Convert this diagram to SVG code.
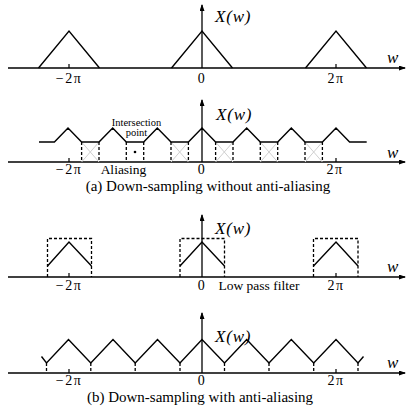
<svg xmlns="http://www.w3.org/2000/svg" width="415" height="415" viewBox="0 0 415 415">
<defs>
<marker id="arr" markerWidth="7" markerHeight="5" refX="6" refY="2.5" orient="auto" markerUnits="userSpaceOnUse">
<path d="M0,0 L7,2.5 L0,5 Z" fill="#000"/>
</marker>
<style>
.ax{stroke:#000;stroke-width:1.3;fill:none}
.sig{stroke:#000;stroke-width:1.4;fill:none;stroke-linejoin:miter}
.dash{stroke:#000;stroke-width:1.3;fill:none;stroke-dasharray:3,2}
.tick{stroke:#000;stroke-width:1.2}
.cross{stroke:#d0d0d0;stroke-width:1}
.lab{font-family:"Liberation Serif",serif;font-size:14px;letter-spacing:1.5px;fill:#000;text-anchor:middle}
.cap{font-family:"Liberation Serif",serif;font-size:15px;fill:#000;text-anchor:middle}
.sm{font-family:"Liberation Serif",serif;font-size:13.5px;fill:#000;text-anchor:middle}
.tiny{font-family:"Liberation Serif",serif;font-size:10.5px;fill:#000;text-anchor:middle}
.it{font-family:"Liberation Serif",serif;font-size:17px;font-style:italic;letter-spacing:0.8px;fill:#000}
</style>
</defs>
<rect width="415" height="415" fill="#fff"/>

<g id="connectors">
<line class="ax" x1="8" y1="68" x2="405" y2="68" marker-end="url(#arr)"/>
<line class="ax" x1="202" y1="68" x2="202" y2="5" marker-end="url(#arr)"/>
<line class="ax" x1="8" y1="162" x2="405" y2="162" marker-end="url(#arr)"/>
<line class="ax" x1="202" y1="162" x2="202" y2="100" marker-end="url(#arr)"/>
<line class="ax" x1="8" y1="277" x2="405" y2="277" marker-end="url(#arr)"/>
<line class="ax" x1="202" y1="277" x2="202" y2="215" marker-end="url(#arr)"/>
<line class="ax" x1="8" y1="373" x2="405" y2="373" marker-end="url(#arr)"/>
<line class="ax" x1="202" y1="373" x2="202" y2="313" marker-end="url(#arr)"/>
</g>

<g id="panel1">
<polyline class="sig" points="38.5,68 69,31 99.5,68"/>
<polyline class="sig" points="171.5,68 202,31 232.5,68"/>
<polyline class="sig" points="305.5,68 336,31 366.5,68"/>
<line class="tick" x1="69" y1="64" x2="69" y2="68"/>
<line class="tick" x1="336" y1="64" x2="336" y2="68"/>
<text class="it" x="215" y="22">X(w)</text>
<text class="it" x="387" y="63">w</text>
<text class="lab" x="69" y="83">−2π</text>
<text class="lab" x="202" y="83">0</text>
<text class="lab" x="336" y="83">2π</text>
</g>

<g id="panel2">
<g id="aliasing-boxes">
<g class="cross">
<line x1="81.6" y1="142" x2="99" y2="162"/><line x1="99" y1="142" x2="81.6" y2="162"/>
<line x1="171" y1="142" x2="188.4" y2="162"/><line x1="188.4" y1="142" x2="171" y2="162"/>
<line x1="215.6" y1="142" x2="233" y2="162"/><line x1="233" y1="142" x2="215.6" y2="162"/>
<line x1="260.3" y1="142" x2="277.7" y2="162"/><line x1="277.7" y1="142" x2="260.3" y2="162"/>
<line x1="305" y1="142" x2="322.4" y2="162"/><line x1="322.4" y1="142" x2="305" y2="162"/>
</g>
<g class="dash">
<line x1="81.6" y1="142" x2="81.6" y2="162"/><line x1="99" y1="142" x2="99" y2="162"/>
<line x1="126.3" y1="142" x2="126.3" y2="162"/><line x1="143.7" y1="142" x2="143.7" y2="162"/>
<line x1="171" y1="142" x2="171" y2="162"/><line x1="188.4" y1="142" x2="188.4" y2="162"/>
<line x1="215.6" y1="142" x2="215.6" y2="162"/><line x1="233" y1="142" x2="233" y2="162"/>
<line x1="260.3" y1="142" x2="260.3" y2="162"/><line x1="277.7" y1="142" x2="277.7" y2="162"/>
<line x1="305" y1="142" x2="305" y2="162"/><line x1="322.4" y1="142" x2="322.4" y2="162"/>
</g>
<circle cx="135" cy="152" r="1.3" fill="#000"/>
</g>
<polyline class="sig" points="39,142 54.4,142 68,128 81.6,142 99,142 112.7,128 126.3,142 143.7,142 157.3,128 171,142 188.4,142 202,128 215.6,142 233,142 246.7,128 260.3,142 277.7,142 291.3,128 305,142 322.4,142 336,128 349.6,142 366.7,142"/>
<line class="tick" x1="69" y1="158" x2="69" y2="162"/>
<line class="tick" x1="336" y1="158" x2="336" y2="162"/>
<text class="it" x="216" y="120">X(w)</text>
<text class="it" x="387" y="158">w</text>
<text class="tiny" x="136.5" y="126">Intersection</text>
<text class="tiny" x="136.5" y="136">point</text>
<text class="lab" x="69" y="174">−2π</text>
<text class="sm" x="123.5" y="174">Aliasing</text>
<text class="lab" x="202" y="174">0</text>
<text class="lab" x="335" y="174">2π</text>
<text class="cap" x="208" y="191">(a) Down-sampling without anti-aliasing</text>
</g>

<g id="panel3">
<g class="dash">
<polyline points="47.5,277 47.5,238.5 91.5,238.5 91.5,277"/>
<polyline points="180,277 180,238.5 224.5,238.5 224.5,277"/>
<polyline points="313.5,277 313.5,238.5 358,238.5 358,277"/>
</g>
<polyline class="sig" points="47.5,266 69,242 91.5,266"/>
<polyline class="sig" points="180,266 202,242 224.5,266"/>
<polyline class="sig" points="313.5,266 336,242 358,266"/>
<line class="tick" x1="69" y1="273" x2="69" y2="277"/>
<line class="tick" x1="336" y1="273" x2="336" y2="277"/>
<text class="it" x="215" y="234">X(w)</text>
<text class="it" x="387" y="272">w</text>
<text class="lab" x="69" y="290">−2π</text>
<text class="lab" x="202" y="290">0</text>
<text class="sm" x="259" y="290">Low pass filter</text>
<text class="lab" x="336" y="290">2π</text>
</g>

<g id="panel4">
<g class="dash">
<line x1="46.5" y1="363" x2="46.5" y2="373"/>
<line x1="90.8" y1="363" x2="90.8" y2="373"/>
<line x1="135.2" y1="363" x2="135.2" y2="373"/>
<line x1="180" y1="363" x2="180" y2="373"/>
<line x1="224.5" y1="363" x2="224.5" y2="373"/>
<line x1="269" y1="363" x2="269" y2="373"/>
<line x1="313.7" y1="363" x2="313.7" y2="373"/>
<line x1="358" y1="363" x2="358" y2="373"/>
</g>
<polyline class="sig" points="41.5,356.5 46.5,363 68.5,339.5 90.8,363 113,339.5 135.2,363 157.5,339.5 180,363 202,339.5 224.5,363 246.7,339.5 269,363 291.3,339.5 313.7,363 336,339.5 358,363 363.5,356.5"/>
<line class="tick" x1="69" y1="369" x2="69" y2="373"/>
<line class="tick" x1="336" y1="369" x2="336" y2="373"/>
<text class="it" x="215" y="342">X(w)</text>
<text class="it" x="387" y="368">w</text>
<text class="lab" x="69" y="385">−2π</text>
<text class="lab" x="202" y="385">0</text>
<text class="lab" x="336" y="385">2π</text>
<text class="cap" x="200" y="402">(b) Down-sampling with anti-aliasing</text>
</g>
</svg>
